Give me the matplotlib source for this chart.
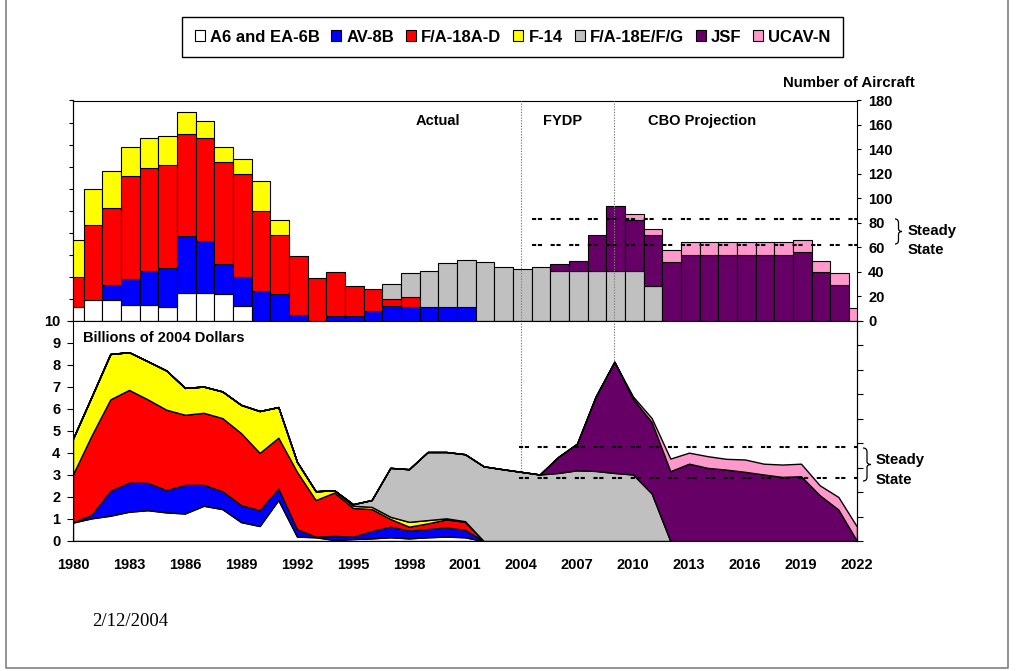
import matplotlib
matplotlib.use('Agg')
import matplotlib.pyplot as plt
import numpy as np
from matplotlib.patches import Patch, PathPatch
from matplotlib.path import Path

plt.rcParams['font.family'] = ['Liberation Sans', 'DejaVu Sans']
plt.rcParams['font.weight'] = 'bold'
plt.rcParams['lines.scale_dashes'] = False

# years 1980..2022
years = np.arange(1980, 2023)
labels = ['A6 and EA-6B', 'AV-8B', 'F/A-18A-D', 'F-14', 'F/A-18E/F/G', 'JSF', 'UCAV-N']
colors = ['#FFFFFF', '#0000FF', '#FF0000', '#FFFF00', '#C0C0C0', '#660066', '#FF99CC']

# number of aircraft purchased (top panel)
a6_n = [11, 17, 17, 13, 13, 11, 23, 23, 22, 12,
        0, 0, 0, 0, 0, 0, 0, 0, 0, 0,
        0, 0, 0, 0, 0, 0, 0, 0, 0, 0,
        0, 0, 0, 0, 0, 0, 0, 0, 0, 0,
        0, 0, 0]
av8b_n = [0, 0, 12, 21, 28, 32, 46, 42, 24, 24,
          24, 22, 5, 0, 4, 4, 8, 12, 11, 11,
          11, 11, 0, 0, 0, 0, 0, 0, 0, 0,
          0, 0, 0, 0, 0, 0, 0, 0, 0, 0,
          0, 0, 0]
f18_n = [25, 61, 63, 84, 84, 84, 84, 84, 84, 84,
         66, 48, 48, 35, 36, 24, 18, 6, 8, 0,
         0, 0, 0, 0, 0, 0, 0, 0, 0, 0,
         0, 0, 0, 0, 0, 0, 0, 0, 0, 0,
         0, 0, 0]
f14_n = [30, 30, 30, 24, 24, 24, 18, 14, 12, 12,
         24, 12, 0, 0, 0, 0, 0, 0, 0, 0,
         0, 0, 0, 0, 0, 0, 0, 0, 0, 0,
         0, 0, 0, 0, 0, 0, 0, 0, 0, 0,
         0, 0, 0]
f18ef_n = [0, 0, 0, 0, 0, 0, 0, 0, 0, 0,
           0, 0, 0, 0, 0, 0, 0, 12, 20, 30,
           36, 39, 48, 44, 42, 44, 41, 41, 41, 41,
           41, 28, 0, 0, 0, 0, 0, 0, 0, 0,
           0, 0, 0]
jsf_n = [0, 0, 0, 0, 0, 0, 0, 0, 0, 0,
         0, 0, 0, 0, 0, 0, 0, 0, 0, 0,
         0, 0, 0, 0, 0, 0, 5, 8, 29, 53,
         41, 42, 48, 54, 54, 54, 54, 54, 54, 56,
         40, 29, 0]
ucav_n = [0, 0, 0, 0, 0, 0, 0, 0, 0, 0,
          0, 0, 0, 0, 0, 0, 0, 0, 0, 0,
          0, 0, 0, 0, 0, 0, 0, 0, 0, 0,
          5, 5, 10, 10, 10, 10, 10, 10, 10, 10,
          9, 10, 10]

# billions of 2004 dollars (bottom panel)
a6_b = [0.84, 1.03, 1.15, 1.33, 1.40, 1.30, 1.25, 1.60, 1.45, 0.86,
        0.68, 1.86, 0.20, 0.17, 0.05, 0.09, 0.12, 0.17, 0.12, 0.17,
        0.20, 0.17, 0, 0, 0, 0, 0, 0, 0, 0,
        0, 0, 0, 0, 0, 0, 0, 0, 0, 0,
        0, 0, 0]
av8b_b = [0.00, 0.17, 1.13, 1.32, 1.24, 1.01, 1.30, 0.95, 0.81, 0.77,
          0.72, 0.52, 0.33, 0.03, 0.18, 0.11, 0.33, 0.48, 0.35, 0.37,
          0.42, 0.33, 0, 0, 0, 0, 0, 0, 0, 0,
          0, 0, 0, 0, 0, 0, 0, 0, 0, 0,
          0, 0, 0]
f18_b = [2.19, 3.60, 4.15, 4.21, 3.79, 3.65, 3.18, 3.27, 3.32, 3.27,
         2.60, 2.31, 2.61, 1.66, 1.97, 1.30, 1.00, 0.35, 0.18, 0.26,
         0.36, 0.37, 0, 0, 0, 0, 0, 0, 0, 0,
         0, 0, 0, 0, 0, 0, 0, 0, 0, 0,
         0, 0, 0]
f14_b = [1.62, 1.76, 2.06, 1.71, 1.73, 1.78, 1.22, 1.19, 1.21, 1.28,
         1.90, 1.39, 0.45, 0.40, 0.10, 0.10, 0.10, 0.10, 0.22, 0.15,
         0.05, 0.03, 0, 0, 0, 0, 0, 0, 0, 0,
         0, 0, 0, 0, 0, 0, 0, 0, 0, 0,
         0, 0, 0]
f18ef_b = [0, 0, 0, 0, 0, 0, 0, 0, 0, 0,
           0, 0, 0, 0, 0, 0.07, 0.31, 2.22, 2.39, 3.09,
           3.01, 3.04, 3.39, 3.26, 3.14, 3.02, 3.09, 3.21, 3.18, 3.09,
           3.02, 2.16, 0, 0, 0, 0, 0, 0, 0, 0,
           0, 0, 0]
jsf_b = [0, 0, 0, 0, 0, 0, 0, 0, 0, 0,
         0, 0, 0, 0, 0, 0, 0, 0, 0, 0,
         0, 0, 0, 0, 0, 0, 0.73, 1.21, 3.38, 5.05,
         3.44, 3.24, 3.17, 3.51, 3.32, 3.24, 3.14, 3.02, 2.91, 2.94,
         2.08, 1.43, 0]
ucav_b = [0, 0, 0, 0, 0, 0, 0, 0, 0, 0,
          0, 0, 0, 0, 0, 0, 0, 0, 0, 0,
          0, 0, 0, 0, 0, 0, 0, 0, 0, 0,
          0.10, 0.18, 0.57, 0.50, 0.53, 0.49, 0.56, 0.49, 0.56, 0.57,
          0.45, 0.57, 0.65]

steady_n = [83, 62]
steady_b = [4.27, 2.86]
period_breaks = [2004, 2009]

series_n = [a6_n, av8b_n, f18_n, f14_n, f18ef_n, jsf_n, ucav_n]
series_b = [a6_b, av8b_b, f18_b, f14_b, f18ef_b, jsf_b, ucav_b]

W, H = 1016, 671
fig = plt.figure(figsize=(W / 100, H / 100), dpi=100, facecolor='white')
ax_top = fig.add_axes([73 / W, 1 - 320.7 / H, 784 / W, 220.2 / H])
ax_bot = fig.add_axes([73 / W, 1 - 541 / H, 784 / W, 220.3 / H])

dash = (0, (3, 1.2, 3, 6.2))

# --- top: stacked bars, number of aircraft
bottom = np.zeros(len(years))
for vals, col in zip(series_n, colors):
    vals = np.array(vals, dtype=float)
    m = vals > 0
    ax_top.bar(years[m] + 0.08, vals[m], bottom=bottom[m], width=1.0, color=col,
               edgecolor='black', linewidth=0.8, zorder=2)
    bottom += vals

ax_top.set_xlim(1980, 2022)
ax_top.set_ylim(0, 180)
ax_top.set_xticks([])
ax_top.yaxis.tick_right()
ax_top.set_yticks(range(0, 181, 20))
ax_top.tick_params(axis='y', direction='out', length=3, pad=5, labelsize=10.5)
sec = ax_top.secondary_yaxis('left', functions=(lambda v: v / 18, lambda v: v * 18))
sec.set_yticks(range(11))
sec.set_yticklabels([])
sec.tick_params(direction='out', length=3)

for x in period_breaks:
    ax_top.axvline(x, color='#808080', ls=(0, (1, 1)), lw=0.8, zorder=3)
for y in steady_n:
    ax_top.plot([2004.6, 2022], [y, y], color='black', ls=dash, lw=1.5, zorder=4)

ax_top.text(1999.55, 163, 'Actual', ha='center', va='center', fontsize=10.5)
ax_top.text(2006.2, 163, 'FYDP', ha='center', va='center', fontsize=10.5)
ax_top.text(2013.7, 163, 'CBO Projection', ha='center', va='center', fontsize=10.5)

# --- bottom: stacked areas, billions of 2004 dollars
ax_bot.stackplot(years, *series_b, colors=colors, edgecolor='black',
                 linewidth=1.0, zorder=2)
ax_bot.set_xlim(1980, 2022)
ax_bot.set_ylim(0, 10)
ax_bot.set_xticks(years[::3])
ax_bot.set_xticklabels([str(y) for y in years[::3]])
ax_bot.set_xticks(years, minor=True)
ax_bot.tick_params(axis='x', which='both', direction='in', length=4, pad=12, labelsize=10.5)
ax_bot.set_yticks(range(11))
ax_bot.tick_params(axis='y', direction='out', length=4, pad=5, labelsize=10.5)
sec2 = ax_bot.secondary_yaxis('right', functions=(lambda v: v * 18, lambda v: v / 18))
sec2.set_yticks(range(0, 181, 20))
sec2.set_yticklabels([])
sec2.tick_params(direction='out', length=4)

for x in period_breaks:
    ax_bot.axvline(x, color='#808080', ls=(0, (1, 1)), lw=0.8, zorder=1.5)
for y in steady_b:
    ax_bot.plot([2003.9, 2022], [y, y], color='black', ls=dash, lw=1.5, zorder=4)

ax_bot.text(1980.52, 9.22, 'Billions of 2004 Dollars', ha='left', va='center', fontsize=10.5)

fig.text(915 / W, 1 - 83 / H, 'Number of Aircraft', ha='right', va='center', fontsize=10.8)

# --- overlay in pixel coordinates for frame and braces
ov = fig.add_axes([0, 0, 1, 1])
ov.set_xlim(0, W)
ov.set_ylim(H, 0)
ov.axis('off')
ov.plot([6, 6, 1008, 1008], [0, 668, 668, 0], color='#808080', lw=1.2)


def brace(x0, y0, y1, w):
    ym = (y0 + y1) / 2
    xm = x0 + w / 2
    verts = [(x0, y0), (xm, y0), (xm, y0 + 4), (xm, ym - 3), (xm, ym), (x0 + w, ym),
             (xm, ym), (xm, ym + 3), (xm, y1 - 4), (xm, y1), (x0, y1)]
    codes = [Path.MOVETO, Path.CURVE3, Path.CURVE3, Path.LINETO, Path.CURVE3, Path.CURVE3,
             Path.CURVE3, Path.CURVE3, Path.LINETO, Path.CURVE3, Path.CURVE3]
    ov.add_patch(PathPatch(Path(verts, codes), fill=False, edgecolor='black', lw=0.9))


brace(895, 219, 244, 7)
ov.text(908, 231, 'Steady', ha='left', va='center', fontsize=10.8)
ov.text(908, 250, 'State', ha='left', va='center', fontsize=10.8)
brace(863, 448, 481, 8)
ov.text(876, 460, 'Steady', ha='left', va='center', fontsize=10.8)
ov.text(876, 480, 'State', ha='left', va='center', fontsize=10.8)

ov.text(92, 622, '2/12/2004', ha='left', va='center', fontsize=13.5,
        fontweight='normal', family=['Liberation Serif', 'DejaVu Serif'])

# --- legend
handles = [Patch(facecolor=c, edgecolor='black', linewidth=0.8) for c in colors]
leg = fig.legend(handles, labels, loc='center', bbox_to_anchor=(512.5 / W, 1 - 37 / H),
                 ncol=7, frameon=True, fancybox=False, edgecolor='black', framealpha=1,
                 prop={'weight': 'bold', 'size': 12}, handlelength=0.6, handleheight=0.6,
                 handletextpad=0.3, columnspacing=0.72, borderpad=0.75)
leg.get_frame().set_linewidth(1.0)

fig.savefig('out.png', dpi=100, facecolor='white')
